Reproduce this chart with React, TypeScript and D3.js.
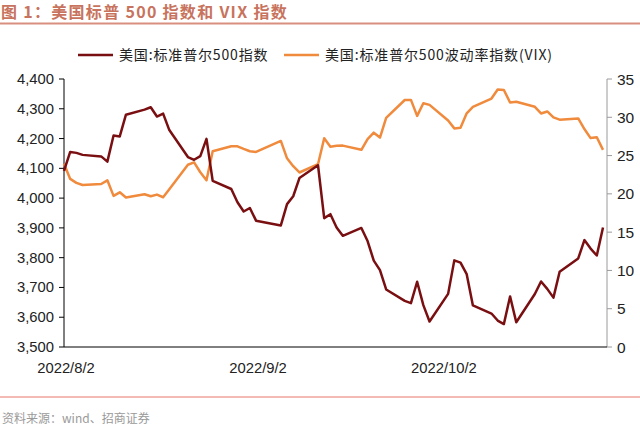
import React from "react";
import * as d3 from "d3";

const dates = [
  "2022-08-02","2022-08-03","2022-08-04","2022-08-05","2022-08-08","2022-08-09","2022-08-10","2022-08-11","2022-08-12","2022-08-15","2022-08-16","2022-08-17","2022-08-18","2022-08-19","2022-08-22","2022-08-23","2022-08-24","2022-08-25","2022-08-26","2022-08-29","2022-08-30","2022-08-31",
  "2022-09-01","2022-09-02","2022-09-06","2022-09-07","2022-09-08","2022-09-09","2022-09-12","2022-09-13","2022-09-14","2022-09-15","2022-09-16","2022-09-19","2022-09-20","2022-09-21","2022-09-22","2022-09-23","2022-09-26","2022-09-27","2022-09-28","2022-09-29","2022-09-30",
  "2022-10-03","2022-10-04","2022-10-05","2022-10-06","2022-10-07","2022-10-10","2022-10-11","2022-10-12","2022-10-13","2022-10-14","2022-10-17","2022-10-18","2022-10-19","2022-10-20","2022-10-21","2022-10-24","2022-10-25","2022-10-26","2022-10-27","2022-10-28"
];

const spx = [
  4091.19, 4155.17, 4151.94, 4145.19, 4140.06, 4122.47, 4210.24, 4207.27, 4280.15, 4297.14, 4305.2, 4274.04, 4283.74, 4228.48, 4137.99, 4128.73, 4140.77, 4199.12, 4057.66, 4030.61, 3986.16, 3955.0,
  3966.85, 3924.26, 3908.19, 3979.87, 4006.18, 4067.36, 4110.41, 3932.69, 3946.01, 3901.35, 3873.33, 3899.89, 3855.93, 3789.93, 3757.99, 3693.23, 3655.04, 3647.29, 3719.04, 3640.47, 3585.62,
  3678.43, 3790.93, 3783.28, 3744.52, 3639.66, 3612.39, 3588.84, 3577.03, 3669.91, 3583.07, 3677.95, 3719.98, 3695.16, 3665.78, 3752.75, 3797.34, 3859.11, 3830.6, 3807.3, 3901.06
];

const vix = [
  23.93, 21.95, 21.44, 21.15, 21.29, 21.77, 19.74, 20.2, 19.53, 19.95, 19.69, 19.9, 19.56, 20.6, 23.8, 24.11, 22.82, 21.78, 25.56, 26.21, 26.21, 25.87,
  25.56, 25.47, 26.91, 24.64, 23.61, 22.79, 23.87, 27.27, 26.16, 26.27, 26.3, 25.76, 27.16, 27.99, 27.35, 29.92, 32.26, 32.27, 30.18, 31.84, 31.62,
  29.59, 28.55, 28.63, 30.52, 31.36, 32.45, 33.63, 33.57, 31.94, 32.02, 31.37, 30.5, 30.76, 29.98, 29.69, 29.85, 28.46, 27.28, 27.39, 25.75
];

const leftTicks = [3500, 3600, 3700, 3800, 3900, 4000, 4100, 4200, 4300, 4400];
const rightTicks = [0, 5, 10, 15, 20, 25, 30, 35];
const xTickLabels = ["2022/8/2", "2022/9/2", "2022/10/2"];
const seriesNames = ["美国:标准普尔500指数", "美国:标准普尔500波动率指数(VIX)"];
const title = "图 1：美国标普 500 指数和 VIX 指数";
const source = "资料来源：wind、招商证券";

const W = 640, H = 428;
const plotL = 64, plotR = 607, plotT = 79, plotB = 347;
const dataR = 603;
const C_SPX = "#7a0f12";
const C_VIX = "#f08a3c";
const FONT = "'Liberation Sans', Arial, sans-serif";
const CJK = "'Noto Sans CJK SC', sans-serif";

export default function App() {
  const parse = d3.timeParse("%Y-%m-%d");
  const ds = dates.map((d) => parse(d) as Date);
  const x = d3.scaleTime().domain([ds[0], ds[ds.length - 1]]).range([plotL, dataR]);
  const labelDates = xTickLabels.map((s) => d3.timeParse("%Y/%m/%d")(s) as Date);
  const yL = d3.scaleLinear().domain([3500, 4400]).range([plotB, plotT]);
  const yR = d3.scaleLinear().domain([0, 35]).range([plotB, plotT]);
  const lineL = d3.line<number>().x((_, i) => x(ds[i])).y((v) => yL(v));
  const lineR = d3.line<number>().x((_, i) => x(ds[i])).y((v) => yR(v));
  const fmt = d3.format(",");

  return (
    <svg width={W} height={H} style={{ position: "absolute", left: 0, top: 0, background: "#fff" }}>
      <rect width={W} height={H} fill="#fff" />
      <text x={1} y={18} fontFamily={CJK} fontWeight="bold" fontSize={16} letterSpacing={1.3} fill="#c8735d">{title}</text>
      <line x1={0} x2={W} y1={23.5} y2={23.5} stroke="#d98f7f" strokeWidth={2} />

      {/* legend */}
      <line x1={78} x2={113} y1={55} y2={55} stroke={C_SPX} strokeWidth={2.5} />
      <text x={119} y={60} fontFamily={CJK} fontSize={14} letterSpacing={0.85} fill="#222">{seriesNames[0]}</text>
      <line x1={284} x2={319} y1={55} y2={55} stroke={C_VIX} strokeWidth={2.5} />
      <text x={325} y={60} fontFamily={CJK} fontSize={14} letterSpacing={0.85} fill="#222">{seriesNames[1]}</text>

      {/* left axis */}
      <line x1={plotL} x2={plotL} y1={plotT} y2={plotB} stroke="#000" strokeWidth={1} />
      {leftTicks.map((t) => (
        <g key={t}>
          <line x1={plotL - 5} x2={plotL} y1={yL(t)} y2={yL(t)} stroke="#000" />
          <text x={54} y={yL(t) + 5} textAnchor="end" fontFamily={FONT} fontSize={14.8} fill="#222">{fmt(t)}</text>
        </g>
      ))}
      {/* right axis */}
      <line x1={plotR} x2={plotR} y1={plotT} y2={plotB} stroke="#9a9a9a" strokeWidth={1} />
      {rightTicks.map((t) => (
        <g key={t}>
          <line x1={plotR} x2={plotR + 5} y1={yR(t)} y2={yR(t)} stroke="#9a9a9a" />
          <text x={617} y={yR(t) + 5.5} fontFamily={FONT} fontSize={15.5} fill="#222">{t}</text>
        </g>
      ))}
      {/* bottom axis */}
      <line x1={plotL} x2={plotR} y1={plotB} y2={plotB} stroke="#000" strokeWidth={1} />
      {labelDates.map((d, i) => (
        <text key={i} x={x(d) + 2} y={373} textAnchor="middle" fontFamily={FONT} fontSize={14.8} fill="#222">{xTickLabels[i]}</text>
      ))}

      <path d={lineR(vix) || ""} fill="none" stroke={C_VIX} strokeWidth={2.5} strokeLinejoin="round" />
      <path d={lineL(spx) || ""} fill="none" stroke={C_SPX} strokeWidth={2.5} strokeLinejoin="round" />

      <line x1={0} x2={W} y1={397} y2={397} stroke="#e8776a" strokeWidth={1} />
      <text x={2} y={423} fontFamily={CJK} fontSize={12} fill="#9a9a9a">{source}</text>
    </svg>
  );
}
